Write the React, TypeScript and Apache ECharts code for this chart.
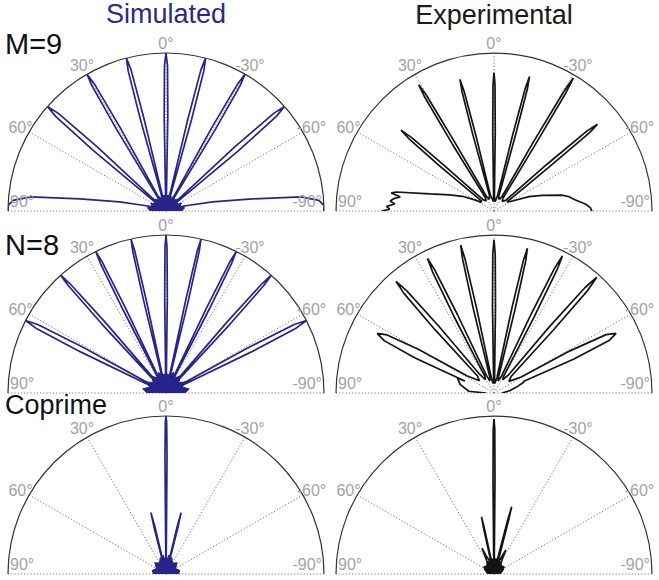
import React, { useEffect, useRef } from "react";
import * as echarts from "echarts";

// ---- labels ----
const columnTitles = ["Simulated", "Experimental"];
const rowLabels = ["M=9", "N=8", "Coprime"];
const angleTicks = [90, 60, 30, 0, -30, -60, -90];

// ---- beam patterns: [angle in degrees (+ = left), normalized magnitude] ----
const simM9: [number, number][] = [
  [-90, 1.0], [-88, 1.0], [-86, 0.97], [-84, 0.86], [-82, 0.55], [-79, 0.3], [-76, 0.15], [-72, 0.08], [-66, 0.1], [-60, 0.06], [-54, 0.09],
  [-51.5, 0.04], [-50.2, 0.6], [-49.4, 0.92], [-48.6, 1], [-47.8, 0.92], [-47, 0.6], [-45.7, 0.04],
  [-42, 0.1], [-38, 0.07], [-34, 0.09],
  [-32.4, 0.04], [-31.2, 0.6], [-30.6, 0.92], [-30, 1], [-29.4, 0.92], [-28.8, 0.6], [-27.6, 0.04],
  [-24, 0.09], [-20, 0.07], [-17.5, 0.1],
  [-16.7, 0.04], [-15.6, 0.6], [-15.1, 0.92], [-14.5, 1], [-13.9, 0.92], [-13.4, 0.6], [-12.3, 0.04],
  [-9, 0.09], [-5, 0.1], [-2.4, 0.04],
  [-1.1, 0.6], [-0.6, 0.92], [0, 1], [0.6, 0.92], [1.1, 0.6], [2.4, 0.04],
  [5, 0.1], [9, 0.09],
  [12.3, 0.04], [13.4, 0.6], [13.9, 0.92], [14.5, 1], [15.1, 0.92], [15.6, 0.6], [16.7, 0.04],
  [17.5, 0.1], [20, 0.07], [24, 0.09],
  [27.6, 0.04], [28.8, 0.6], [29.4, 0.92], [30, 1], [30.6, 0.92], [31.2, 0.6], [32.4, 0.04],
  [34, 0.09], [38, 0.07], [42, 0.1],
  [45.7, 0.04], [47, 0.6], [47.8, 0.92], [48.6, 1], [49.4, 0.92], [50.2, 0.6], [51.5, 0.04],
  [54, 0.09], [60, 0.06], [66, 0.1], [72, 0.08], [76, 0.15], [79, 0.3], [82, 0.55], [84, 0.86], [86, 0.97], [88, 1.0], [90, 1.0],
];
const simM9Core: [number, number][] = [
  [-90, 0.1], [-80, 0.12], [-72, 0.08], [-64, 0.11], [-56, 0.08], [-46, 0.11], [-38, 0.08], [-28, 0.11], [-20, 0.08], [-10, 0.1],
  [0, 0.09], [10, 0.1], [20, 0.08], [28, 0.11], [38, 0.08], [46, 0.11], [56, 0.08], [64, 0.11], [72, 0.08], [80, 0.12], [90, 0.1],
];

const simN8: [number, number][] = [
  [-90, 0.05], [-84, 0.1], [-78, 0.07], [-72, 0.11], [-68, 0.06],
  [-65.9, 0.05], [-64.3, 0.6], [-63.5, 0.92], [-62.7, 1], [-61.9, 0.92], [-61.1, 0.6], [-59.5, 0.05],
  [-55, 0.12], [-50, 0.07], [-46, 0.12],
  [-43.9, 0.05], [-42.9, 0.6], [-42.3, 0.92], [-41.8, 1], [-41.3, 0.92], [-40.7, 0.6], [-39.7, 0.05],
  [-36, 0.12], [-32, 0.07], [-29.5, 0.12],
  [-28.2, 0.05], [-27.3, 0.6], [-26.85, 0.92], [-26.4, 1], [-25.95, 0.92], [-25.5, 0.6], [-24.6, 0.05],
  [-21, 0.12], [-17, 0.07], [-15, 0.12],
  [-14.45, 0.05], [-13.6, 0.6], [-13.2, 0.92], [-12.8, 1], [-12.4, 0.92], [-12, 0.6], [-11.15, 0.05],
  [-8, 0.12], [-4, 0.08], [-1.6, 0.05],
  [-0.8, 0.6], [-0.4, 0.92], [0, 1], [0.4, 0.92], [0.8, 0.6], [1.6, 0.05],
  [4, 0.08], [8, 0.12],
  [11.15, 0.05], [12, 0.6], [12.4, 0.92], [12.8, 1], [13.2, 0.92], [13.6, 0.6], [14.45, 0.05],
  [15, 0.12], [17, 0.07], [21, 0.12],
  [24.6, 0.05], [25.5, 0.6], [25.95, 0.92], [26.4, 1], [26.85, 0.92], [27.3, 0.6], [28.2, 0.05],
  [29.5, 0.12], [32, 0.07], [36, 0.12],
  [39.7, 0.05], [40.7, 0.6], [41.3, 0.92], [41.8, 1], [42.3, 0.92], [42.9, 0.6], [43.9, 0.05],
  [46, 0.12], [50, 0.07], [55, 0.12],
  [59.5, 0.05], [61.1, 0.6], [61.9, 0.92], [62.7, 1], [63.5, 0.92], [64.3, 0.6], [65.9, 0.05],
  [68, 0.06], [72, 0.11], [78, 0.07], [84, 0.1], [90, 0.05],
];
const simN8Core: [number, number][] = [
  [-90, 0.12], [-80, 0.15], [-70, 0.11], [-60, 0.14], [-50, 0.1], [-40, 0.14], [-30, 0.11], [-20, 0.14], [-10, 0.11],
  [0, 0.13], [10, 0.11], [20, 0.14], [30, 0.11], [40, 0.14], [50, 0.1], [60, 0.14], [70, 0.11], [80, 0.15], [90, 0.12],
];

const simCoprime: [number, number][] = [
  [-90, 0.03], [-75, 0.06], [-60, 0.04], [-45, 0.07], [-35, 0.05], [-27, 0.09], [-22, 0.06], [-18, 0.1],
  [-15.6, 0.04], [-14.4, 0.3], [-13.8, 0.4], [-13.2, 0.3], [-12, 0.04],
  [-9, 0.12], [-6, 0.07], [-3.5, 0.1], [-1.2, 0.04],
  [-0.5, 0.75], [-0.25, 0.96], [0, 1], [0.25, 0.96], [0.5, 0.75],
  [1.2, 0.04], [3.5, 0.1], [6, 0.07], [9, 0.12],
  [12, 0.04], [13.2, 0.3], [13.8, 0.4], [14.4, 0.3], [15.6, 0.04],
  [18, 0.1], [22, 0.06], [27, 0.09], [35, 0.05], [45, 0.07], [60, 0.04], [75, 0.06], [90, 0.03],
];
const simCoprimeCore: [number, number][] = [
  [-90, 0.08], [-75, 0.09], [-60, 0.07], [-45, 0.1], [-30, 0.08], [-20, 0.11], [-10, 0.09],
  [0, 0.11], [10, 0.09], [20, 0.11], [30, 0.08], [45, 0.1], [60, 0.07], [75, 0.09], [90, 0.08],
];

const expM9: [number, number][] = [
  [-90, 0.62], [-88, 0.61], [-85.6, 0.58], [-82.3, 0.52], [-79, 0.48], [-76.8, 0.44], [-72, 0.32], [-67.7, 0.24], [-60, 0.12], [-55, 0.1],
  [-52.5, 0.1], [-51.4, 0.45], [-50.7, 0.78], [-50, 0.855], [-49.3, 0.78], [-48.6, 0.45], [-47.5, 0.1],
  [-40, 0.08], [-35, 0.1],
  [-32.8, 0.1], [-31.9, 0.5], [-31.3, 0.88], [-30.8, 0.98], [-30.3, 0.88], [-29.7, 0.5], [-28.8, 0.1],
  [-22, 0.08], [-18, 0.1],
  [-16.6, 0.1], [-15.8, 0.5], [-15.3, 0.8], [-14.8, 0.88], [-14.3, 0.8], [-13.8, 0.5], [-13, 0.1],
  [-7, 0.06], [-2.5, 0.08],
  [-1.6, 0.1], [-0.9, 0.5], [-0.45, 0.8], [0, 0.875], [0.45, 0.8], [0.9, 0.5], [1.6, 0.1],
  [4, 0.06], [9, 0.08],
  [12.7, 0.1], [13.5, 0.5], [14, 0.78], [14.5, 0.86], [15, 0.78], [15.5, 0.5], [16.3, 0.1],
  [22, 0.08], [27, 0.1],
  [28.8, 0.1], [29.7, 0.5], [30.3, 0.85], [30.8, 0.93], [31.3, 0.85], [31.9, 0.5], [32.8, 0.1],
  [38, 0.08], [44, 0.1],
  [46.5, 0.1], [47.6, 0.45], [48.3, 0.7], [49, 0.78], [49.7, 0.7], [50.4, 0.45], [51.5, 0.1],
  [56, 0.1], [59, 0.13], [65, 0.22], [70, 0.3], [75, 0.42], [79, 0.63], [80, 0.66], [81.5, 0.6], [83, 0.64],
  [84.5, 0.66], [86, 0.63], [87.5, 0.68], [89, 0.66], [90, 0.71],
];

const expN8: [number, number][] = [
  [-90, 0.05], [-82, 0.1], [-75, 0.15], [-70, 0.2],
  [-68.5, 0.2], [-67, 0.55], [-65.5, 0.8], [-64, 0.86], [-62.5, 0.8], [-61, 0.55], [-59.5, 0.2],
  [-52, 0.12], [-46, 0.15],
  [-44.4, 0.15], [-43.3, 0.55], [-42.4, 0.88], [-41.6, 0.98], [-40.8, 0.88], [-39.9, 0.55], [-38.8, 0.15],
  [-33, 0.1], [-30, 0.12],
  [-28.8, 0.12], [-27.8, 0.55], [-27.1, 0.88], [-26.5, 0.97], [-25.9, 0.88], [-25.2, 0.55], [-24.2, 0.12],
  [-19, 0.08], [-16, 0.1],
  [-15, 0.1], [-14.1, 0.55], [-13.5, 0.86], [-13, 0.94], [-12.5, 0.86], [-11.9, 0.55], [-11, 0.1],
  [-5, 0.06], [-2.4, 0.08],
  [-1.8, 0.08], [-1, 0.55], [-0.5, 0.88], [0, 0.97], [0.5, 0.88], [1, 0.55], [1.8, 0.08],
  [6, 0.06], [10, 0.1],
  [10.7, 0.1], [11.6, 0.55], [12.2, 0.87], [12.7, 0.96], [13.2, 0.87], [13.8, 0.55], [14.7, 0.1],
  [19, 0.08], [23.2, 0.12],
  [24, 0.12], [25, 0.55], [25.7, 0.86], [26.3, 0.95], [26.9, 0.86], [27.6, 0.55], [28.6, 0.12],
  [33, 0.1], [37.5, 0.15],
  [38.5, 0.15], [39.6, 0.55], [40.5, 0.85], [41.3, 0.94], [42.1, 0.85], [43, 0.55], [44.1, 0.15],
  [50, 0.12], [57.5, 0.2],
  [58.5, 0.2], [60, 0.55], [61.5, 0.77], [63, 0.83], [64.5, 0.77], [66, 0.55], [67.5, 0.2],
  [68, 0.25], [76, 0.22], [86, 0.16], [90, 0.05],
];

const expCoprime: [number, number][] = [
  [-90, 0.03], [-60, 0.05], [-40, 0.06], [-30, 0.1], [-26, 0.17], [-23, 0.1], [-18, 0.08],
  [-16, 0.08], [-15.2, 0.35], [-14.7, 0.44], [-14.2, 0.35], [-13, 0.08],
  [-8, 0.1], [-4, 0.06], [-1.3, 0.08],
  [-0.6, 0.6], [-0.3, 0.92], [0, 0.98], [0.3, 0.92], [0.6, 0.6],
  [1.3, 0.08], [5, 0.07], [9, 0.1],
  [11, 0.08], [11.9, 0.3], [12.3, 0.37], [12.8, 0.3], [13.8, 0.08],
  [19, 0.09], [23, 0.12], [25, 0.18], [28, 0.1], [40, 0.06], [60, 0.04], [90, 0.03],
];
const expCoprimeCore: [number, number][] = [
  [-90, 0.04], [-70, 0.06], [-55, 0.08], [-40, 0.07], [-25, 0.09], [-12, 0.08],
  [0, 0.1], [12, 0.08], [25, 0.09], [40, 0.07], [55, 0.08], [70, 0.06], [90, 0.04],
];

// ---- layout ----
const COL_X = [166, 494];
const ROW_Y = [211, 393, 574];
const R = 158;
const SIM_COLOR = "#27248a";
const EXP_COLOR = "#141414";
const FONT = "Arial, Liberation Sans, Helvetica, sans-serif";

export default function App() {
  const ref = useRef<HTMLDivElement>(null);

  useEffect(() => {
    if (!ref.current) return;
    const chart = echarts.init(ref.current, undefined, { renderer: "svg" });

    const panels = [
      { row: 0, col: 0, data: simM9, core: simM9Core, color: SIM_COLOR },
      { row: 0, col: 1, data: expM9, core: null, color: EXP_COLOR },
      { row: 1, col: 0, data: simN8, core: simN8Core, color: SIM_COLOR },
      { row: 1, col: 1, data: expN8, core: null, color: EXP_COLOR },
      { row: 2, col: 0, data: simCoprime, core: simCoprimeCore, color: SIM_COLOR },
      { row: 2, col: 1, data: expCoprime, core: expCoprimeCore, color: EXP_COLOR },
    ];

    const polar: any[] = [];
    const angleAxis: any[] = [];
    const radiusAxis: any[] = [];
    const series: any[] = [];
    const graphic: any[] = [];

    panels.forEach((p, i) => {
      const cx = COL_X[p.col];
      const cy = ROW_Y[p.row];
      polar.push({ center: [cx, cy], radius: [0, R] });
      angleAxis.push({
        polarIndex: i,
        type: "value",
        min: -90,
        max: 90,
        interval: 30,
        startAngle: 0,
        endAngle: 180,
        clockwise: false,
        axisLine: { show: true, lineStyle: { color: "#333333", width: 1.2 } },
        axisTick: { show: false },
        axisLabel: { show: false },
        splitLine: { show: true, lineStyle: { color: "#7a7a7a", width: 1, type: [1.2, 2] } },
        splitArea: { show: false },
      });
      radiusAxis.push({
        polarIndex: i,
        type: "value",
        min: 0,
        max: 1,
        show: false,
        axisLine: { show: false },
        axisTick: { show: false },
        axisLabel: { show: false },
        splitLine: { show: false },
      });
      series.push({
        type: "line",
        coordinateSystem: "polar",
        polarIndex: i,
        data: p.data.map(([a, r]) => [r, a]),
        symbol: "none",
        smooth: false,
        silent: true,
        z: 3,
        lineStyle: { color: p.color, width: 1.7 },
      });
      if (p.core) {
        series.push({
          type: "line",
          coordinateSystem: "polar",
          polarIndex: i,
          data: p.core.map(([a, r]) => [r, a]),
          symbol: "none",
          silent: true,
          z: 3,
          lineStyle: { color: p.color, width: 1 },
          areaStyle: { color: p.color, opacity: 1 },
        });
      }

      // angle tick labels
      angleTicks.forEach((t) => {
        const text = `${t}°`;
        if (Math.abs(t) === 90) {
          graphic.push({
            type: "text",
            x: t > 0 ? cx - R + 2 : cx + R - 2,
            y: cy - 10,
            z: 10,
            style: {
              text,
              fill: "#a3a3a3",
              font: `16px ${FONT}`,
              align: t > 0 ? "left" : "right",
              verticalAlign: "middle",
            },
          });
        } else {
          const rad = ((90 + t) * Math.PI) / 180;
          const rl = R + 10;
          graphic.push({
            type: "text",
            x: cx + rl * Math.cos(rad),
            y: cy - rl * Math.sin(rad),
            z: 10,
            style: {
              text,
              fill: "#a3a3a3",
              font: `16px ${FONT}`,
              align: "center",
              verticalAlign: "middle",
            },
          });
        }
      });
    });

    // column titles
    graphic.push({
      type: "text",
      x: COL_X[0],
      y: 14,
      style: { text: columnTitles[0], fill: "#2c2a88", font: `27px ${FONT}`, align: "center", verticalAlign: "middle" },
    });
    graphic.push({
      type: "text",
      x: COL_X[1],
      y: 15,
      style: { text: columnTitles[1], fill: "#1a1a1a", font: `27px ${FONT}`, align: "center", verticalAlign: "middle" },
    });
    // row labels
    const rowLabelY = [44, 245, 405];
    rowLabels.forEach((l, k) => {
      graphic.push({
        type: "text",
        x: 5,
        y: rowLabelY[k],
        z: 10,
        style: { text: l, fill: "#111111", font: `${k === 2 ? 27 : 29}px ${FONT}`, align: "left", verticalAlign: "middle" },
      });
    });

    chart.setOption({
      animation: false,
      backgroundColor: "#ffffff",
      polar,
      angleAxis,
      radiusAxis,
      series,
      graphic,
    });

    return () => chart.dispose();
  }, []);

  return (
    <div
      ref={ref}
      style={{ position: "absolute", left: 0, top: 0, width: 659, height: 580, background: "#fff" }}
    />
  );
}
